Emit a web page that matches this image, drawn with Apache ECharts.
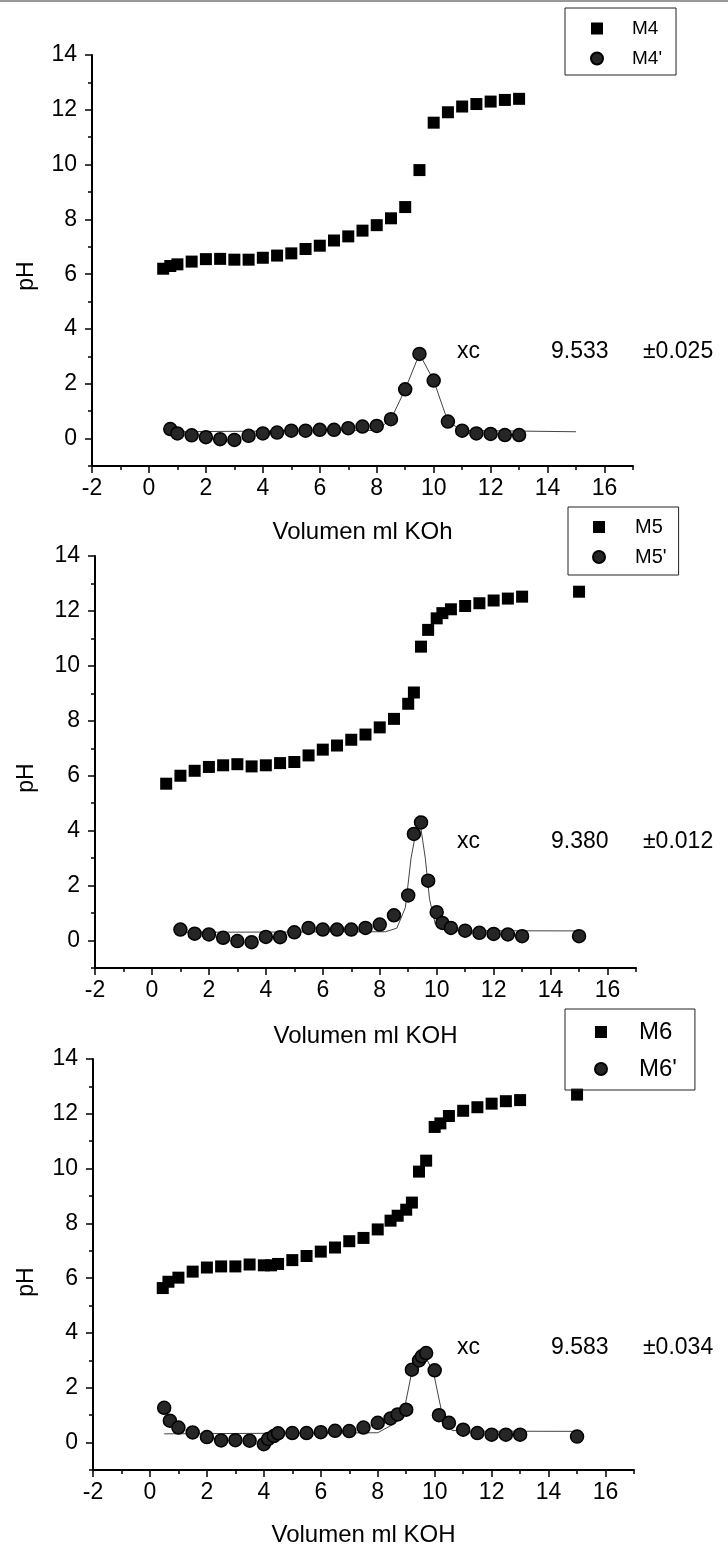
<!DOCTYPE html>
<html>
<head>
<meta charset="utf-8">
<script src="https://cdn.jsdelivr.net/npm/echarts@6/dist/echarts.min.js"></script>
<style>
  html, body { margin: 0; padding: 0; background: #fff; }
  #chart { width: 728px; height: 1550px; }
</style>
</head>
<body>
<div id="chart"></div>
<script>
// Tick values shared by the three titration panels
const xTicks = [-2, 0, 2, 4, 6, 8, 10, 12, 14, 16];
const xMinorTicks = [-1, 1, 3, 5, 7, 9, 11, 13, 15, 17];
const yTicks = [0, 2, 4, 6, 8, 10, 12, 14];
const yMinorTicks = [-1, 1, 3, 5, 7, 9, 11, 13];

// M4: titration curve and its derivative
const m4Vol = [0.5, 0.75, 1.0, 1.5, 2.0, 2.5, 3.0, 3.5, 4.0, 4.5, 5.0, 5.5, 6.0, 6.5, 7.0, 7.5, 8.0, 8.5, 9.0, 9.5, 10.0, 10.5, 11.0, 11.5, 12.0, 12.5, 13.0];
const m4pH = [6.2, 6.3, 6.36, 6.46, 6.55, 6.56, 6.53, 6.53, 6.6, 6.68, 6.76, 6.92, 7.04, 7.23, 7.38, 7.59, 7.79, 8.04, 8.45, 9.8, 11.53, 11.91, 12.12, 12.21, 12.3, 12.36, 12.4];
const m4dVol = [0.75, 1.0, 1.5, 2.0, 2.5, 3.0, 3.5, 4.0, 4.5, 5.0, 5.5, 6.0, 6.5, 7.0, 7.5, 8.0, 8.5, 9.0, 9.5, 10.0, 10.5, 11.0, 11.5, 12.0, 12.5, 13.0];
const m4d = [0.35, 0.19, 0.12, 0.05, -0.02, -0.05, 0.1, 0.19, 0.22, 0.29, 0.29, 0.32, 0.32, 0.38, 0.44, 0.46, 0.71, 1.8, 3.09, 2.12, 0.62, 0.29, 0.19, 0.17, 0.13, 0.13];
const m4FitVol = [0.75, 8.0, 8.5, 9.0, 9.5, 10.0, 10.5, 11.0, 15.0];
const m4Fit = [0.25, 0.3, 0.71, 1.8, 3.09, 2.12, 0.62, 0.3, 0.25];

// M5
const m5Vol = [0.5, 1.0, 1.5, 2.0, 2.5, 3.0, 3.5, 4.0, 4.5, 5.0, 5.5, 6.0, 6.5, 7.0, 7.5, 8.0, 8.5, 9.0, 9.2, 9.45, 9.7, 10.0, 10.2, 10.5, 11.0, 11.5, 12.0, 12.5, 13.0, 15.0];
const m5pH = [5.71, 6.0, 6.18, 6.32, 6.38, 6.42, 6.34, 6.38, 6.46, 6.5, 6.74, 6.95, 7.1, 7.31, 7.5, 7.76, 8.07, 8.62, 9.03, 10.7, 11.31, 11.73, 11.92, 12.06, 12.18, 12.28, 12.38, 12.45, 12.52, 12.7];
const m5dVol = [1.0, 1.5, 2.0, 2.5, 3.0, 3.5, 4.0, 4.5, 5.0, 5.5, 6.0, 6.5, 7.0, 7.5, 8.0, 8.5, 9.0, 9.2, 9.45, 9.7, 10.0, 10.2, 10.5, 11.0, 11.5, 12.0, 12.5, 13.0, 15.0];
const m5d = [0.4, 0.25, 0.22, 0.1, -0.02, -0.06, 0.13, 0.12, 0.3, 0.46, 0.4, 0.4, 0.4, 0.46, 0.58, 0.92, 1.64, 3.88, 4.3, 2.18, 1.03, 0.64, 0.46, 0.36, 0.28, 0.24, 0.22, 0.16, 0.16];
const m5FitVol = [1.0, 8.2, 8.6, 8.9, 9.1, 9.38, 9.6, 9.75, 9.95, 10.3, 15.0];
const m5Fit = [0.3, 0.32, 0.45, 1.2, 3.0, 4.55, 3.0, 1.5, 0.6, 0.36, 0.35];

// M6
const m6Vol = [0.45, 0.65, 1.0, 1.5, 2.0, 2.5, 3.0, 3.5, 4.0, 4.25, 4.5, 5.0, 5.5, 6.0, 6.5, 7.0, 7.5, 8.0, 8.45, 8.7, 9.0, 9.2, 9.45, 9.7, 10.0, 10.2, 10.5, 11.0, 11.5, 12.0, 12.5, 13.0, 15.0];
const m6pH = [5.64, 5.87, 6.02, 6.24, 6.39, 6.43, 6.43, 6.5, 6.47, 6.47, 6.52, 6.66, 6.81, 6.97, 7.12, 7.35, 7.47, 7.78, 8.1, 8.28, 8.5, 8.76, 9.89, 10.29, 11.52, 11.65, 11.92, 12.11, 12.24, 12.37, 12.46, 12.5, 12.7];
const m6dVol = [0.5, 0.7, 1.0, 1.5, 2.0, 2.5, 3.0, 3.5, 4.0, 4.15, 4.35, 4.5, 5.0, 5.5, 6.0, 6.5, 7.0, 7.5, 8.0, 8.45, 8.7, 9.0, 9.2, 9.45, 9.55, 9.7, 10.0, 10.15, 10.5, 11.0, 11.5, 12.0, 12.5, 13.0, 15.0];
const m6d = [1.27, 0.8, 0.55, 0.37, 0.2, 0.08, 0.09, 0.07, -0.06, 0.13, 0.24, 0.34, 0.35, 0.35, 0.38, 0.43, 0.42, 0.55, 0.72, 0.88, 1.03, 1.2, 2.66, 3.0, 3.15, 3.27, 2.64, 1.0, 0.72, 0.47, 0.35, 0.29, 0.29, 0.29, 0.22];
const m6FitVol = [0.5, 8.0, 8.6, 8.95, 9.2, 9.58, 9.95, 10.3, 10.6, 11.0, 15.0];
const m6Fit = [0.32, 0.36, 0.7, 1.3, 2.6, 3.3, 2.6, 0.85, 0.45, 0.42, 0.41];

// Fit results printed beside each derivative peak
const fitText = [
  { xc: '9.533', err: '\u00b10.025' },
  { xc: '9.380', err: '\u00b10.012' },
  { xc: '9.583', err: '\u00b10.034' }
];
const xTitles = ['Volumen ml KOh', 'Volumen ml KOH', 'Volumen ml KOH'];
const legendNames = [['M4', "M4'"], ['M5', "M5'"], ['M6', "M6'"]];

const FONT = "'Liberation Sans', Arial, sans-serif";

// Layout of the three stacked panels
const panels = [
  { left: 92, top: 55, bottom: 466, txtY: 352, pHY: 276, titleY: 532,
    legend: { left: 565, top: 8, font: 19, pad: [11, 14, 7, 25], gap: 11, textPad: 24 } },
  { left: 95, top: 556, bottom: 968, txtY: 842, pHY: 778, titleY: 1036,
    legend: { left: 568, top: 507, font: 20, pad: [10, 12, 8, 24], gap: 10, textPad: 25 } },
  { left: 93, top: 1059, bottom: 1470, txtY: 1348, pHY: 1282, titleY: 1535,
    legend: { left: 565, top: 1009, font: 24, pad: [11, 18, 9, 29], gap: 13, textPad: 27 } }
];
const gridW = 541;

const sets = [
  { vol: m4Vol, pH: m4pH, dVol: m4dVol, d: m4d, fVol: m4FitVol, f: m4Fit },
  { vol: m5Vol, pH: m5pH, dVol: m5dVol, d: m5d, fVol: m5FitVol, f: m5Fit },
  { vol: m6Vol, pH: m6pH, dVol: m6dVol, d: m6d, fVol: m6FitVol, f: m6Fit }
];

const zip = (a, b) => a.map((v, i) => [v, b[i]]);

const grid = [], xAxis = [], yAxis = [], series = [], legend = [], graphic = [];
const tickStyle = { color: '#000', width: 1.5 };

panels.forEach((p, i) => {
  grid.push({ left: p.left, top: p.top, width: gridW, height: p.bottom - p.top, containLabel: false });
  const axisLine = { show: true, onZero: false, lineStyle: { color: '#000', width: 2 } };
  // labelled x axis
  xAxis.push({
    type: 'value', gridIndex: i, min: -2, max: 17,
    axisLine: axisLine,
    axisTick: { show: true, inside: false, length: 7, customValues: xTicks, lineStyle: tickStyle },
    axisLabel: { show: true, customValues: xTicks, margin: 11, color: '#000', fontSize: 23, fontFamily: FONT },
    splitLine: { show: false }
  });
  // odd-valued minor x ticks
  xAxis.push({
    type: 'value', gridIndex: i, min: -2, max: 17, position: 'bottom', offset: 0,
    axisLine: { show: false, onZero: false },
    axisTick: { show: true, inside: false, length: 4, customValues: xMinorTicks, lineStyle: tickStyle },
    axisLabel: { show: false }, splitLine: { show: false }
  });
  yAxis.push({
    type: 'value', gridIndex: i, min: -1, max: 14,
    axisLine: axisLine,
    axisTick: { show: true, inside: false, length: 7, customValues: yTicks, lineStyle: tickStyle },
    axisLabel: { show: true, customValues: yTicks, margin: 15, color: '#000', fontSize: 23, fontFamily: FONT },
    splitLine: { show: false }
  });
  yAxis.push({
    type: 'value', gridIndex: i, min: -1, max: 14, position: 'left', offset: 0,
    axisLine: { show: false, onZero: false },
    axisTick: { show: true, inside: false, length: 4, customValues: yMinorTicks, lineStyle: tickStyle },
    axisLabel: { show: false }, splitLine: { show: false }
  });

  const s = sets[i];
  const xi = i * 2, yi = i * 2;
  series.push({
    name: legendNames[i][0], type: 'scatter', xAxisIndex: xi, yAxisIndex: yi,
    symbol: 'rect', symbolSize: 12, data: zip(s.vol, s.pH),
    itemStyle: { color: '#000', opacity: 1 }, z: 3, silent: true
  });
  series.push({
    name: 'fit' + i, type: 'line', xAxisIndex: xi, yAxisIndex: yi,
    data: zip(s.fVol, s.f), showSymbol: false, symbol: 'none',
    lineStyle: { color: '#444', width: 1 }, z: 2, silent: true
  });
  series.push({
    name: legendNames[i][1], type: 'scatter', xAxisIndex: xi, yAxisIndex: yi,
    symbol: 'circle', symbolSize: 13, data: zip(s.dVol, s.d),
    itemStyle: { color: '#262626', borderColor: '#000', borderWidth: 1.5, opacity: 1 }, z: 4, silent: true
  });

  const L = p.legend;
  legend.push({
    data: legendNames[i], orient: 'vertical',
    left: L.left, top: L.top,
    padding: L.pad, itemGap: L.gap, itemWidth: 12, itemHeight: 12,
    borderColor: '#222', borderWidth: 1,
    textStyle: { fontSize: L.font, fontFamily: FONT, color: '#000', padding: [0, 0, 0, L.textPad] },
    selectedMode: false
  });

  graphic.push(
    { type: 'text', left: 457, top: p.txtY - 12, style: { text: 'xc', font: '23px ' + FONT, fill: '#000' } },
    { type: 'text', left: 551, top: p.txtY - 12, style: { text: fitText[i].xc, font: '23px ' + FONT, fill: '#000' } },
    { type: 'text', left: 643, top: p.txtY - 12, style: { text: fitText[i].err, font: '23px ' + FONT, fill: '#000' } },
    { type: 'text', x: 27, y: p.pHY, rotation: Math.PI / 2,
      style: { text: 'pH', font: '23px ' + FONT, fill: '#000', align: 'center', verticalAlign: 'middle' } },
    { type: 'text', x: p.left + gridW / 2, y: p.titleY,
      style: { text: xTitles[i], font: '24px ' + FONT, fill: '#000', align: 'center', verticalAlign: 'middle' } }
  );
});

// thin rule along the top edge of the sheet
graphic.push({ type: 'line', shape: { x1: 0, y1: 1, x2: 728, y2: 1 }, style: { stroke: '#999', lineWidth: 2 } });

const chart = echarts.init(document.getElementById('chart'), null, { renderer: 'canvas' });
chart.setOption({
  backgroundColor: '#fff',
  animation: false,
  grid, xAxis, yAxis, series, legend, graphic
});
</script>
</body>
</html>
